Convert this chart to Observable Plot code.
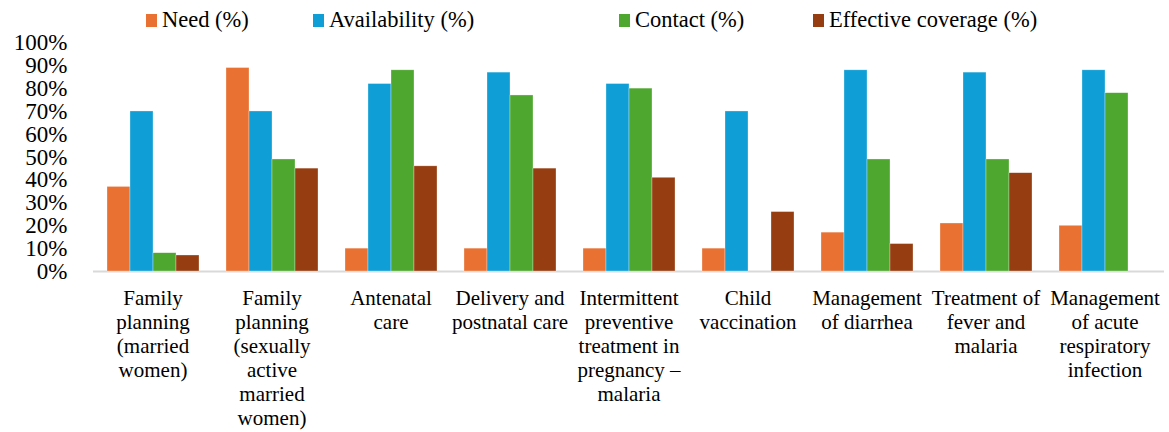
<!DOCTYPE html>
<html><head><meta charset="utf-8">
<script src="https://cdn.jsdelivr.net/npm/d3@7"></script>
<script src="https://cdn.jsdelivr.net/npm/@observablehq/plot@0.6"></script>
<style>
body{margin:0;background:#fff;font-family:'Liberation Serif';}
#legend{position:relative;height:30px;width:1169px;font-size:22.5px;color:#000;font-family:'Liberation Serif';}
#legend .item{position:absolute;top:8px;height:24px;line-height:24px;display:flex;align-items:center;white-space:nowrap;}
#legend .sw{width:11px;height:13px;margin-right:5px;display:inline-block;}
#chart svg text{font-family:'Liberation Serif';}
</style></head><body>
<div id="legend"></div>
<div id="chart"></div>
<script>
const categories = ["FP married","FP sexually active","Antenatal","Delivery","IPTp","Vaccination","Diarrhea","Fever","ARI"];
const categoryLabels = [
  "Family\nplanning\n(married\nwomen)",
  "Family\nplanning\n(sexually\nactive\nmarried\nwomen)",
  "Antenatal\ncare",
  "Delivery and\npostnatal care",
  "Intermittent\npreventive\ntreatment in\npregnancy –\nmalaria",
  "Child\nvaccination",
  "Management\nof diarrhea",
  "Treatment of\nfever and\nmalaria",
  "Management\nof acute\nrespiratory\ninfection"
];
const series = ["Need (%)", "Availability (%)", "Contact (%)", "Effective coverage (%)"];
const need         = [37, 89, 10, 10, 10, 10, 17, 21, 20];
const availability = [70, 70, 82, 87, 82, 70, 88, 87, 88];
const contact      = [8, 49, 88, 77, 80, null, 49, 49, 78];
const effective    = [7, 45, 46, 45, 41, 26, 12, 43, null];
const yTicks = [0, 10, 20, 30, 40, 50, 60, 70, 80, 90, 100];

const colors = ["#E97132", "#0F9ED5", "#4EA72E", "#963E11"];
const legendLeft = [146, 313, 619, 813];
const serifFont = "Liberation Serif";

const seriesValues = [need, availability, contact, effective];
const rows = [];
categories.forEach((c, i) => series.forEach((s, j) => {
  const v = seriesValues[j][i];
  if (v != null) rows.push({category: c, series: s, value: v});
}));
const labelOf = new Map(categories.map((c, i) => [c, categoryLabels[i]]));

const legend = document.getElementById("legend");
series.forEach((s, j) => {
  const it = document.createElement("div");
  it.className = "item";
  it.style.left = legendLeft[j] + "px";
  const sw = document.createElement("span");
  sw.className = "sw";
  sw.style.background = colors[j];
  const tx = document.createElement("span");
  tx.textContent = s;
  it.appendChild(sw); it.appendChild(tx);
  legend.appendChild(it);
});

const chart = Plot.plot({
  width: 1169,
  height: 402,
  marginTop: 12.4,
  marginBottom: 161,
  marginLeft: 93,
  marginRight: 4,
  style: {fontFamily: serifFont, background: "white", color: "black", overflow: "visible"},
  fx: {domain: categories, paddingInner: 0.2, paddingOuter: 0.1, label: null},
  x: {domain: series, padding: 0, axis: null},
  y: {domain: [0, 100], axis: null},
  color: {domain: series, range: colors},
  marks: [
    Plot.ruleY([0], {stroke: "#d9d9d9", strokeWidth: 2, insetLeft: -12, insetRight: -12}),
    Plot.barY(rows, {fx: "category", x: "series", y: "value", fill: "series", stroke: "white", strokeWidth: 0.6, strokeOpacity: 0.5}),
    Plot.axisY(yTicks, {tickSize: 0, tickPadding: 38, fontSize: 23, fontFamily: serifFont, tickFormat: d => d + "%", label: null}),
    Plot.axisFx({anchor: "bottom", tickSize: 0, tickPadding: 16, fontSize: 21, fontFamily: serifFont, lineHeight: 1.15, tickFormat: d => labelOf.get(d), label: null})
  ]
});
document.getElementById("chart").appendChild(chart);
</script>
</body></html>
